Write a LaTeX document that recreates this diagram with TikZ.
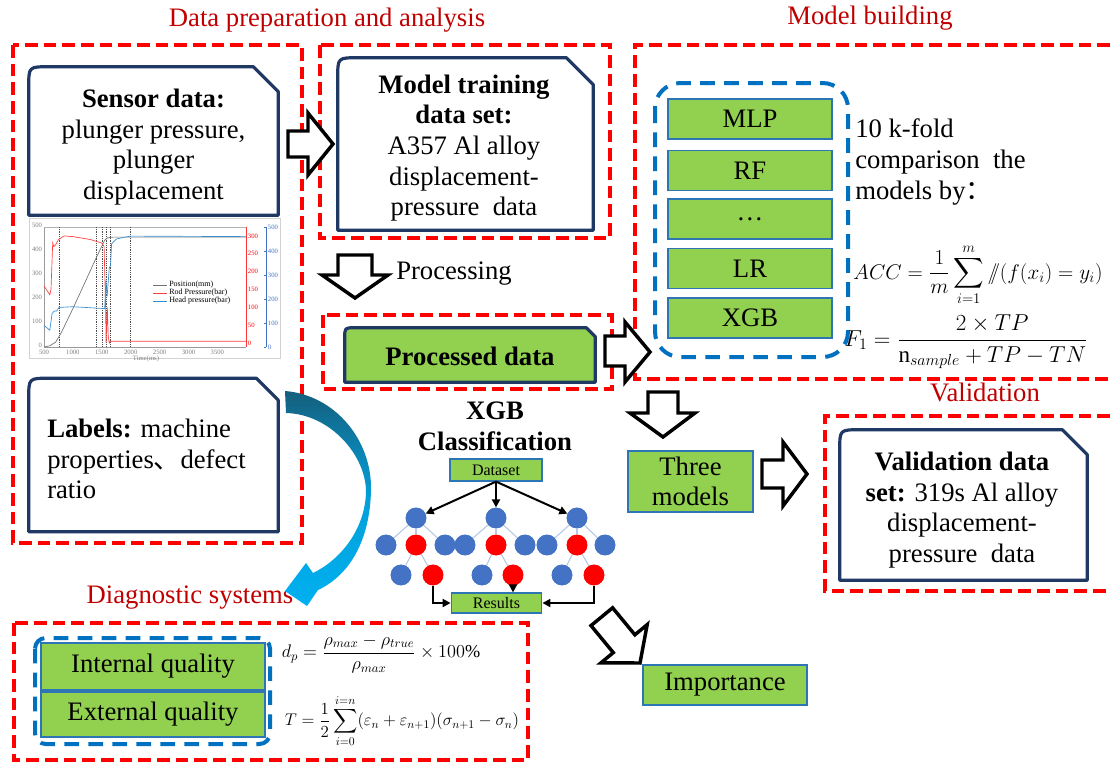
\documentclass[tikz,border=0pt]{standalone}
\usepackage{amsmath}
\usepackage{fontspec}
\setmainfont{Liberation Serif}
\newfontfamily\cjk{Noto Sans CJK SC}
\usetikzlibrary{calc,arrows.meta}
\definecolor{navy}{RGB}{31,56,100}
\definecolor{mygreen}{RGB}{146,208,80}
\definecolor{gborder}{RGB}{46,117,182}
\definecolor{myblue}{RGB}{0,112,192}
\definecolor{titlered}{RGB}{192,0,0}
\definecolor{nodeblue}{RGB}{68,114,196}
\definecolor{edgeblue}{RGB}{180,199,231}
\definecolor{teal1}{RGB}{20,95,125}
\definecolor{cyan1}{RGB}{0,176,240}
\newcommand{\bodyfont}{\fontsize{20}{23}\selectfont}
\newcommand{\snipoutline}[4][]{%
  \draw[navyline,#1] (#2.south west) -- ($(#2.north west)+(0,#4)$) .. controls (#2.north west) .. ($(#2.north west)+(#4,0)$) -- ($(#2.north east)+(-#3,0)$) -- ($(#2.north east)+(0,#3)$) -- (#2.south east) -- cycle;}
\begin{document}
\begin{tikzpicture}[x=0.75pt,y=-0.75pt,
  reddash/.style={draw=red, line width=2.6pt, dash pattern=on 9.5pt off 4.5pt},
  bluedash/.style={draw=myblue, line width=3pt, dash pattern=on 11pt off 7pt},
  gbox/.style={draw=gborder, fill=mygreen, line width=1.1pt, font=\bodyfont, inner sep=0pt, align=center},
  txt/.style={font=\bodyfont, align=center, inner sep=0pt},
  title/.style={font=\bodyfont, text=titlered, inner sep=0pt},
  navyline/.style={draw=navy, line width=2.4pt, line join=round},
  shapebox/.style={inner sep=0pt},
  blockarrow/.style={draw=black, fill=white, line width=2.6pt, line join=miter},
  tick/.style={font=\fontsize{5}{5.5}\selectfont, text=gray, inner sep=0.5pt},
  leg/.style={font=\fontsize{6}{6.5}\selectfont, inner sep=0pt, anchor=west},
  bc/.style={circle, fill=nodeblue, minimum size=15.5pt, inner sep=0pt},
  rc/.style={circle, fill=red, minimum size=15.5pt, inner sep=0pt},
  treeedge/.style={draw=edgeblue, line width=0.8pt},
  treearrow/.style={draw=black, line width=1.5pt, -{Triangle[length=6pt,width=6pt]}},
  smallbox/.style={draw=gborder, fill=mygreen, line width=0.9pt, font=\fontsize{12}{13}\selectfont, inner sep=0pt}
]
\useasboundingbox (0,0) rectangle (1110,765);
\fill[white] (0,0) rectangle (1110,765);

% ---------- titles ----------
\node[title] (t1) at (327,20) {Data preparation and analysis};
\node[title] (t2) at (870,18) {Model building};
\node[title] (t3) at (985,392) {Validation};
\node[title] (t4) at (190,598) {Diagnostic systems};

% ---------- red dashed groups ----------
\draw[reddash] (13,45) rectangle (302,543);
\draw[reddash] (320,45) rectangle (610,238);
\draw[reddash] (323,315) rectangle (612,389);
\draw[reddash] (1110,45) -- (635,45) -- (635,379) -- (1110,379);
\draw[reddash] (1110,416) -- (825,416) -- (825,591) -- (1110,591);
\draw[reddash] (14,623) rectangle (528,760);

% ---------- navy snip boxes ----------
\node[shapebox, minimum width=186.75pt, minimum height=111pt] (sensorbox) at (153.5,141) {};
\snipoutline{sensorbox}{25}{20}
\node[txt] (sensor) at (153.5,147) {\textbf{Sensor data:}\\plunger pressure,\\plunger\\displacement};

\node[shapebox, minimum width=186.75pt, minimum height=114.75pt] (labelsbox) at (153.5,455) {};
\snipoutline{labelsbox}{22}{20}
\node[txt, align=left, anchor=west] (labels) at (47,459) {\textbf{Labels:} machine\\properties{\cjk 、}defect\\ratio};

\node[shapebox, minimum width=191.25pt, minimum height=129pt] (trainbox) at (465.5,144) {};
\snipoutline{trainbox}{27}{20}
\node[txt] (train) at (464,148) {\textbf{Model training}\\\textbf{data set:}\\A357 Al alloy\\displacement-\\pressure\ \ data};

\node[shapebox, minimum width=185.25pt, minimum height=112.5pt] (valbox) at (963.5,505) {};
\snipoutline{valbox}{25}{20}
\node[txt] (val) at (962,510) {\textbf{Validation data}\\\textbf{set:} 319s Al alloy\\displacement-\\pressure\ \ data};

\node[shapebox, minimum width=187.5pt, minimum height=40.5pt] (procbox) at (470,355) {};
\snipoutline[fill=mygreen]{procbox}{9}{10}
\node[txt] (proc) at (470,356) {\textbf{Processed data}};

% ---------- chart ----------
\draw[gray!35, line width=0.5pt] (29,218) rectangle (280,358);
\draw[gray!80, line width=0.4pt] (44,227) -- (44,347) -- (246,347);
\draw[gray!60, line width=0.4pt] (44,227) -- (246,227);
\draw[red!80, line width=0.4pt] (246,227) -- (246,347);
\draw[nodeblue, line width=0.4pt] (266,227) -- (266,347);
\foreach \v in {0,100,...,500} {
  \node[tick, anchor=east] (yl\v) at (43,{345-0.24*\v}) {\v};
  \node[tick, anchor=west, text=nodeblue] (yb\v) at (267,{347-0.24*\v}) {\v};
  \draw[nodeblue, line width=0.4pt] (264,{347-0.24*\v}) -- (266,{347-0.24*\v});
}
\foreach \v in {0,50,...,300} {
  \node[tick, anchor=west, text=red] (yr\v) at (247,{343-0.357*\v}) {\v};
}
\foreach \t in {500,1000,...,3500} {
  \node[tick, anchor=north] (xt\t) at ({44+(\t-500)*0.0578},349) {\t};
}
\node[tick, anchor=north] (tlab) at (146,354.5) {Time(ms)};
\foreach \x in {59,96,101.8,105.9,109.9,130.7} {
  \draw[black!70, line width=0.35pt, densely dotted] (\x,227) -- (\x,347);
}
\draw[gray!90!black, line width=0.5pt] (44,347) -- (49.8,345.8) -- (55.6,342.2) -- (61.3,332.6) -- (67.1,320.6) -- (72.9,308.6) -- (84.5,283.4) -- (96,258.2) -- (101.8,246.2) -- (104.7,240.2) -- (107.6,237.8) -- (113.4,237.1) -- (246,237.1);
\draw[red!75, line width=0.5pt] (44,285.9) -- (49.8,294.8) -- (51,289.4) -- (52.7,243) -- (53.8,246.6) -- (55.6,244.8) -- (58.5,239.5) -- (64.2,235.9) -- (72.9,236.6) -- (90.3,239.5) -- (101.8,243) -- (104.1,246.6) -- (105.6,307.3) -- (106.1,343) -- (107.3,307.3) -- (108.2,335.9) -- (109.3,343) -- (110.5,341.2) -- (246,341.2);
\draw[nodeblue!80!cyan, line width=0.5pt] (44,325.4) -- (49.8,330.2) -- (52.1,313.4) -- (54.4,311) -- (56.7,311) -- (59,307.4) -- (72.9,306.7) -- (104.7,308.6) -- (105.9,279.8) -- (107.1,296.6) -- (108.2,282.2) -- (109.3,267.8) -- (110.5,265.4) -- (111.6,243.8) -- (116.3,239) -- (124.9,237.1) -- (130.7,236.1) -- (246,236.6);
\draw[gray!90!black, line width=0.5pt] (153,285) -- (167,285);
\draw[red!75, line width=0.5pt] (153,293) -- (167,293);
\draw[nodeblue!80!cyan, line width=0.5pt] (153,301) -- (167,301);
\node[leg] (lg1) at (169,285) {Position(mm)};
\node[leg] (lg2) at (169,293) {Rod Pressure(bar)};
\node[leg] (lg3) at (169,301) {Head pressure(bar)};

% ---------- curved arrow ----------
\shade[top color=teal1, bottom color=cyan1, middle color=cyan1!80!teal1]
  (285,391) .. controls (335,395) and (372,440) .. (371,490)
  .. controls (370,540) and (350,575) .. (318,590) -- (307,606) -- (285,591) -- (306,563) -- (313,573)
  .. controls (340,560) and (365,530) .. (366,492)
  .. controls (366,455) and (330,414) .. (286,413) -- cycle;

% ---------- block arrows ----------
\draw[blockarrow] (288,131) -- (308,131) -- (308,113) -- (333,144) -- (308,175) -- (308,157) -- (288,157) -- cycle;
\draw[blockarrow] (338,255) -- (372,255) -- (372,275) -- (388,275) -- (355,298) -- (322,275) -- (338,275) -- cycle;
\draw[blockarrow] (605,336) -- (625,336) -- (625,322) -- (650,352) -- (625,382) -- (625,366) -- (605,366) -- cycle;
\draw[blockarrow] (648,392) -- (678,392) -- (678,413) -- (695,413) -- (663,437) -- (630,413) -- (648,413) -- cycle;
\draw[blockarrow] (762,460) -- (783,460) -- (783,442) -- (807,474) -- (783,506) -- (783,488) -- (762,488) -- cycle;
\draw[blockarrow] (591,625.6) -- (613.3,652.6) -- (601,662.8) -- (640,663) -- (647.2,624.6) -- (634.9,634.8) -- (612.6,607.8) -- cycle;
\node[txt, anchor=west] (processing) at (396,274) {Processing};

% ---------- model building ----------
\draw[bluedash, rounded corners=19pt] (655,83) rectangle (848,357);
\node[gbox, minimum width=123pt, minimum height=30pt] (mlp) at (750,119) {MLP};
\node[gbox, minimum width=123pt, minimum height=30pt] (rf) at (750,170.5) {RF};
\node[gbox, minimum width=123pt, minimum height=30pt] (dots) at (750,219) {\dots};
\node[gbox, minimum width=123pt, minimum height=30pt] (lr) at (750,268.5) {LR};
\node[gbox, minimum width=123pt, minimum height=30pt] (xgb) at (750,318) {XGB};
\node[txt, align=left, anchor=west] (kfold) at (855,162) {10 k-fold\\comparison\ \ the\\models by{\cjk ：}};
\node[inner sep=0pt] (acc) at (978,275) {\fontsize{17.28}{19}\selectfont\scalebox{0.92}{$\displaystyle ACC=\frac{1}{m}\sum_{i=1}^{m}/\!\!/(f(x_i)=y_i)$}};
\node[inner sep=0pt] (f1) at (966,342) {\fontsize{17.28}{19}\selectfont $\displaystyle F_1=\frac{2\times TP}{\mathrm{n}_{sample}+TP-TN}$};

% ---------- three models / importance ----------
\node[gbox, minimum width=93.75pt, minimum height=45.75pt] (three) at (690.5,481.5) {Three\\models};
\node[gbox, minimum width=123pt, minimum height=30pt] (imp) at (725,685) {Importance};

% ---------- XGB tree ----------
\node[txt] (xgbtitle) at (495,426) {\textbf{XGB}\\\textbf{Classification}};
\node[smallbox, minimum width=69pt, minimum height=16.5pt] (ds) at (496,470) {Dataset};
\node[smallbox, minimum width=68pt, minimum height=15pt] (res) at (496.5,603) {Results};
\node[bc] (a1) at (416,518) {};
\node[bc] (a2) at (496,518) {};
\node[bc] (a3) at (577,518) {};
\node[bc] (b11) at (386,545) {};
\node[rc] (b12) at (416,545) {};
\node[bc] (b13) at (445,545) {};
\node[bc] (b21) at (465,545) {};
\node[rc] (b22) at (496,545) {};
\node[bc] (b23) at (525,545) {};
\node[bc] (b31) at (547,545) {};
\node[rc] (b32) at (577,545) {};
\node[bc] (b33) at (605,545) {};
\node[bc] (c11) at (401,575) {};
\node[rc] (c12) at (433,575) {};
\node[bc] (c21) at (482,575) {};
\node[rc] (c22) at (513,575) {};
\node[bc] (c31) at (562,575) {};
\node[rc] (c32) at (594,575) {};
\foreach \p/\c in {a1/b11,a1/b12,a1/b13,a2/b21,a2/b22,a2/b23,a3/b31,a3/b32,a3/b33,b12/c11,b12/c12,b22/c21,b22/c22,b32/c31,b32/c32} {
  \draw[treeedge] (\p) -- (\c);
}
\foreach \n/\k in {a1/bc,a2/bc,a3/bc,b11/bc,b12/rc,b13/bc,b21/bc,b22/rc,b23/bc,b31/bc,b32/rc,b33/bc,c11/bc,c12/rc,c21/bc,c22/rc,c31/bc,c32/rc} {
  \node[\k] (\n top) at (\n) {};
}
\draw[treearrow] (ds.south) -- (a1);
\draw[treearrow] (ds.south) -- (a2);
\draw[treearrow] (ds.south) -- (a3);
\draw[treearrow] (c12) |- (res.west);
\draw[treearrow] (c22) -- (c22 |- res.north);
\draw[treearrow] (c32) |- (res.east);

% ---------- diagnostic systems ----------
\draw[bluedash, rounded corners=8pt] (35,638) rectangle (270,744);
\node[gbox, minimum width=168pt, minimum height=35.25pt] (internal) at (153,666.5) {Internal quality};
\node[gbox, minimum width=168pt, minimum height=33.75pt] (external) at (153,714.5) {External quality};
\node[inner sep=0pt] (dp) at (381,654) {\fontsize{14.4}{16}\selectfont\scalebox{0.95}{$\displaystyle d_p=\frac{\rho_{max}-\rho_{true}}{\rho_{max}}\times 100\%$}};
\node[inner sep=0pt] (tt) at (402,721) {\fontsize{14.4}{16}\selectfont\scalebox{0.88}{$\displaystyle T=\frac{1}{2}\sum_{i=0}^{i=n}(\varepsilon_n+\varepsilon_{n+1})(\sigma_{n+1}-\sigma_n)$}};
\end{tikzpicture}
\end{document}
